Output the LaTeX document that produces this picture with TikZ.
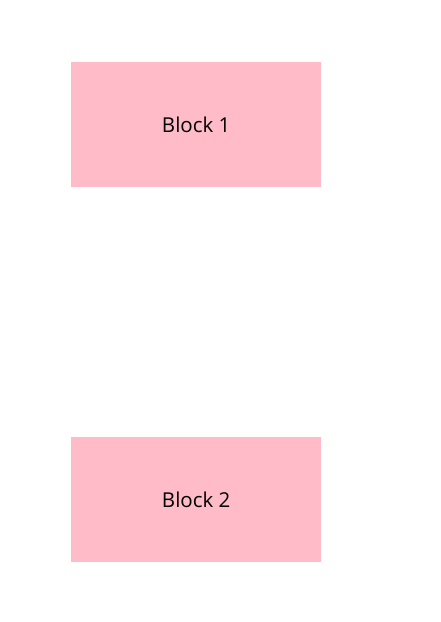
\documentclass[tikz,border=0pt]{standalone}
\usepackage{fontspec}
\setmainfont{Open Sans}
\definecolor{blockpink}{HTML}{FFBBC7}
\begin{document}
\begin{tikzpicture}[x=1pt,y=-1pt,
  block/.style={fill=blockpink,draw=none,minimum width=250pt,minimum height=125pt,inner sep=0pt,anchor=north west,font=\fontsize{20.5}{23}\selectfont}]
\useasboundingbox[fill=white] (0,0) rectangle (441,622);
\node[block] (b1) at (71,62) {Block 1};
\node[block] (b2) at (71,437) {Block 2};
\end{tikzpicture}
\end{document}
